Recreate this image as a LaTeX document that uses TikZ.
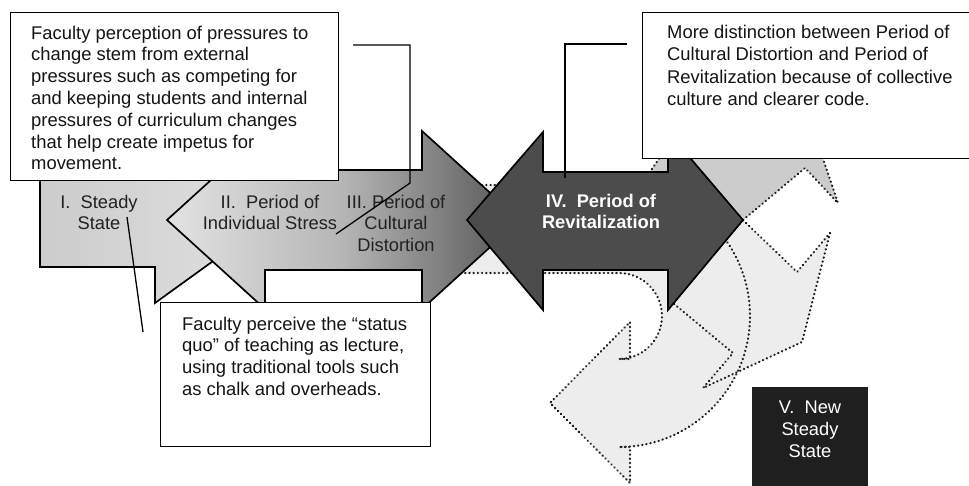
\documentclass[tikz,border=0pt]{standalone}
\usepackage{fontspec}
\setmainfont{Liberation Sans}
\newcommand\lineblock[2]{\begin{tabular}[t]{@{}#1@{}}#2\end{tabular}}
% outlines of the pale background arrows
\def\uturnband{(440,185) -- (619,185) arc[start angle=-90, end angle=90, radius=131] -- (630,447) -- (630,483) -- (550,403) -- (630,322) -- (630,359) -- (619,359) arc[start angle=90, end angle=-90, radius=43] -- (440,273) -- cycle}
\def\driftband{(743,220) -- (797,272) -- (830,233) -- (802,342) -- (703,388) -- (733,353) -- (673,303) -- (690,280) -- cycle}
\def\upperband{(647,176) -- (663,153) -- (820,150) -- (838,203) -- (805,168) -- (743,220) -- (700,210) -- cycle}
\begin{document}
\begin{tikzpicture}[x=1pt,y=-1pt,
  shape edge/.style={draw=black, line width=1.7pt, line join=miter, miter limit=10},
  ghost/.style={fill=black!7},
  ghost dark/.style={fill=black!20},
  dotline/.style={draw=black!88, line width=2.3pt, line cap=round, line join=round, dash pattern=on 0.3pt off 3.9pt},
  calloutbox/.style={draw=black, line width=1.4pt, fill=white, inner sep=0pt, anchor=north west},
  leader/.style={draw=black, line width=1.3pt},
  notetext/.style={inner sep=0pt, anchor=base west, text=black!92},
  stagetext/.style={inner sep=0pt, anchor=base, text=black!87, font=\fontsize{18.3}{21.5}\selectfont},
]
\useasboundingbox (0,0) rectangle (969,485);
\clip (0,0) rectangle (969,485);

% pale arrows behind the stages
\path[ghost dark] \upperband;
\path[ghost] \uturnband;
\path[ghost] \driftband;
\path[dotline] \upperband;
\path[dotline] \uturnband;
\path[dotline] \driftband;

% I. steady state arrow
\path[shape edge, left color=black!20, right color=black!12]
  (40,173) -- (155,173) -- (155,137) -- (270,220) -- (155,303) -- (155,267) -- (40,267) -- cycle;

% II./III. double arrow
\path[shape edge, left color=black!11, right color=black!67, middle color=black!29]
  (167,220) -- (265,131) -- (265,170) -- (422,170) -- (422,131) -- (520,220)
  -- (422,309) -- (422,270) -- (265,270) -- (265,309) -- cycle;

% IV. double arrow
\path[shape edge, fill=black!70]
  (467,220) -- (543,132) -- (543,172) -- (668,172) -- (668,132) -- (743,220)
  -- (668,310) -- (668,270) -- (543,270) -- (543,310) -- cycle;

% stage labels
\node[stagetext] (s1) at (99,208) {\lineblock{c}{I.~~Steady\\State}};
\node[stagetext] (s2) at (270,208) {\lineblock{c}{II.~~Period of\\Individual Stress}};
\node[stagetext] (s3) at (396,208) {\lineblock{c}{III. Period of\\Cultural\\Distortion}};
\node[stagetext, text=white, font=\fontsize{18.3}{21.5}\selectfont\bfseries] (s4) at (601,207)
  {\lineblock{c}{IV.~~Period of\\Revitalization}};

% V. new steady state
\node[fill=black!88, minimum width=116pt, minimum height=110pt, inner sep=0pt, anchor=north west] (v) at (752,387) {};
\node[stagetext, text=white, font=\fontsize{18.3}{22}\selectfont] (s5) at (810,413) {\lineblock{c}{V.~~New\\Steady\\State}};

% callout boxes
\node[calloutbox, minimum width=328pt, minimum height=168pt] (c1) at (10,12) {};
\node[calloutbox, minimum width=350pt, minimum height=146pt] (c2) at (642,12) {};
\node[calloutbox, minimum width=270pt, minimum height=144pt] (c3) at (160,302) {};

\node[notetext, font=\fontsize{18.4}{21.8}\selectfont] (n1) at (31,39) {\lineblock{l}{%
  Faculty perception of pressures to\\
  change stem from external\\
  pressures such as competing for\\
  and keeping students and internal\\
  pressures of curriculum changes\\
  that help create impetus for\\
  movement.}};
\node[notetext, font=\fontsize{18.4}{22.6}\selectfont] (n2) at (667,38) {\lineblock{l}{%
  More distinction between Period of\\
  Cultural Distortion and Period of\\
  Revitalization because of collective\\
  culture and clearer code.}};
\node[notetext, font=\fontsize{18.4}{21.7}\selectfont] (n3) at (182,330) {\lineblock{l}{%
  Faculty perceive the “status\\
  quo” of teaching as lecture,\\
  using traditional tools such\\
  as chalk and overheads.}};

% callout leader lines
\coordinate (l1a) at (353,45);
\coordinate (l1b) at (410,45);
\coordinate (l1c) at (410,183);
\coordinate (l1d) at (336,234);
\draw[leader] (l1a) -- (l1b) -- (l1c) -- (l1d);
\coordinate (l2a) at (627,44);
\coordinate (l2b) at (565,44);
\coordinate (l2c) at (565,178);
\draw[leader] (l2a) -- (l2b) -- (l2c);
\coordinate (l3a) at (127,217);
\coordinate (l3b) at (143,332);
\draw[leader] (l3a) -- (l3b);
\end{tikzpicture}
\end{document}
